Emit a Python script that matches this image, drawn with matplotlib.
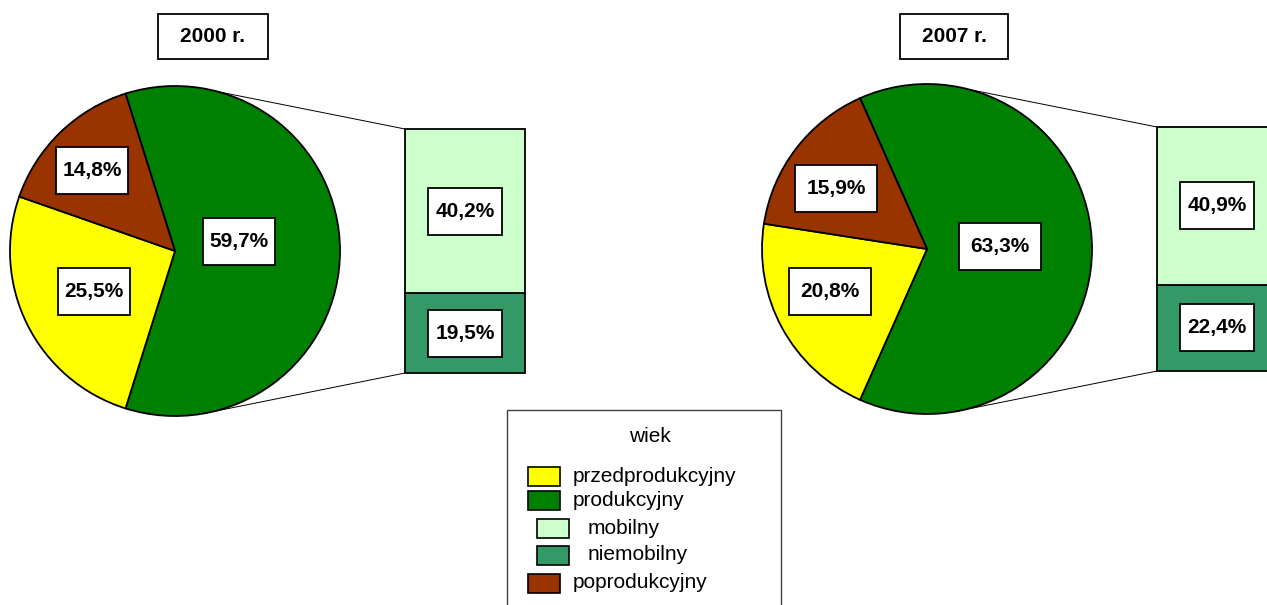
import numpy as np
import matplotlib.pyplot as plt
from matplotlib.patches import Rectangle

plt.rcParams['font.family'] = ['Liberation Sans', 'DejaVu Sans']

# data
years = ['2000 r.', '2007 r.']
przedprod = [25.5, 20.8]
prod = [59.7, 63.3]
poprod = [14.8, 15.9]
mobilny = [40.2, 40.9]
niemobilny = [19.5, 22.4]

legend_title = 'wiek'
legend_names = ['przedprodukcyjny', 'produkcyjny', 'mobilny', 'niemobilny', 'poprodukcyjny']

c_przed = '#FFFF00'
c_prod = '#008000'
c_mob = '#CCFFCC'
c_niemob = '#339966'
c_poprod = '#993300'
legend_colors = [c_przed, c_prod, c_mob, c_niemob, c_poprod]
legend_indent = [False, False, True, True, False]

W, H = 1267, 605
fig = plt.figure(figsize=(W / 100, H / 100), dpi=100)
ax = fig.add_axes([0, 0, 1, 1])


def box_text(x, y, s, w, h, size=15):
    ax.add_patch(Rectangle((x - w / 2, y - h / 2), w, h, facecolor='white',
                           edgecolor='black', lw=1.3, zorder=5))
    ax.text(x, y, s, ha='center', va='center', fontsize=size,
            fontweight='bold', zorder=6)


def fmt(v):
    return f'{v:.1f}%'.replace('.', ',')


# layout (pixels)
pie_cx = [175, 927]
pie_cy = [H - 251, H - 249]
R = 165
bar_dx = 290
bar_w = 120
bar_h = 244
title_cx = [213, 954]
title_w = [110, 108]
lab_w = [72, 82]
# label radius (fraction of R) and angle shift, order: prod, przed, poprod
lab_r = [[0.39, 0.55, 0.70], [0.44, 0.64, 0.66]]
lab_da = [[8.6, 0, 1.6], [2.3, -5, 4]]

for i in range(2):
    cx, cy = pie_cx[i], pie_cy[i]
    vals = [prod[i], przedprod[i], poprod[i]]
    wedges, _ = ax.pie(vals, colors=[c_prod, c_przed, c_poprod],
                       startangle=1.8 * prod[i], counterclock=False,
                       center=(cx, cy), radius=R, frame=True,
                       wedgeprops=dict(edgecolor='black', linewidth=1.3))
    for w, v, rf, da in zip(wedges, vals, lab_r[i], lab_da[i]):
        a = np.deg2rad((w.theta1 + w.theta2) / 2 + da)
        box_text(cx + rf * R * np.cos(a), cy + rf * R * np.sin(a), fmt(v), lab_w[i], 47)

    # bar of pie
    bx = cx + bar_dx
    scale = bar_h / prod[i]
    b0 = cy - bar_h / 2
    hs = [niemobilny[i] * scale, mobilny[i] * scale]
    bots = [b0, b0 + hs[0]]
    ax.bar([bx, bx], hs, bottom=bots, width=bar_w, color=[c_niemob, c_mob],
           edgecolor='black', linewidth=1.3, zorder=3)
    for v, hh, bb in zip([niemobilny[i], mobilny[i]], hs, bots):
        box_text(bx, bb + hh / 2, fmt(v), 74, 47)

    # connector lines
    for ang, by in [(75, b0 + bar_h), (-80, b0)]:
        a = np.deg2rad(ang)
        ax.plot([cx + R * np.cos(a), bx - bar_w / 2], [cy + R * np.sin(a), by],
                color='black', lw=0.7, zorder=1)

    box_text(title_cx[i], H - 36.5, years[i], title_w[i], 45, size=15)

# legend
ax.add_patch(Rectangle((507, -5), 274, H - 410 + 5, facecolor='white',
                       edgecolor='#404040', lw=1.0, zorder=4))
ax.text(650, H - 437, legend_title, ha='center', va='center', fontsize=15, zorder=6)
row_y = [476, 500, 528, 555, 583]
for name, col, ind, ry in zip(legend_names, legend_colors, legend_indent, row_y):
    px = 537 if ind else 528
    tx = 588 if ind else 573
    ax.add_patch(Rectangle((px, H - ry - 9.5), 32, 19, facecolor=col,
                           edgecolor='black', lw=1.2, zorder=5))
    ax.text(tx, H - ry, name, ha='left', va='center', fontsize=15, zorder=6)

ax.set_xlim(0, W)
ax.set_ylim(0, H)
ax.axis('off')
fig.savefig('out.png', dpi=100)
